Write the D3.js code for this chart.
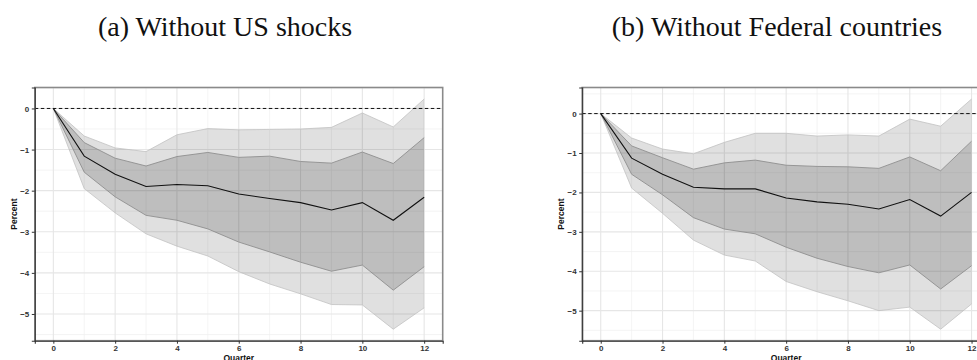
<!DOCTYPE html>
<html>
<head>
<meta charset="utf-8">
<style>
  body { margin: 0; background: #fff; }
  .title { font: 28px "Liberation Serif", "Times New Roman", serif; fill: #111; }
  .tick text { font: bold 8px "Liberation Sans", Arial, sans-serif; fill: #333; }
  .axlab { font: bold 8.5px "Liberation Sans", Arial, sans-serif; fill: #111; }
</style>
</head>
<body>
<script src="https://cdn.jsdelivr.net/npm/d3@7"></script>
<script>

  // quarters after the shock
  var quarters = [0, 1, 2, 3, 4, 5, 6, 7, 8, 9, 10, 11, 12];
  var xTicks = [0, 2, 4, 6, 8, 10, 12];
  var yTicks = [0, -1, -2, -3, -4, -5];
  var titles = ["(a) Without US shocks", "(b) Without Federal countries"];

  // (a) Without US shocks
  var meanA     = [0, -1.16, -1.60, -1.90, -1.85, -1.88, -2.08, -2.19, -2.29, -2.47, -2.29, -2.72, -2.16];
  var innerHiA  = [0, -0.83, -1.21, -1.40, -1.17, -1.07, -1.19, -1.16, -1.29, -1.33, -1.06, -1.34, -0.71];
  var innerLoA  = [0, -1.55, -2.15, -2.60, -2.72, -2.93, -3.25, -3.49, -3.74, -3.96, -3.81, -4.42, -3.85];
  var outerHiA  = [0, -0.67, -0.96, -1.05, -0.64, -0.49, -0.52, -0.51, -0.50, -0.46, -0.11, -0.45, 0.23];
  var outerLoA  = [0, -1.95, -2.54, -3.05, -3.35, -3.59, -3.97, -4.27, -4.51, -4.77, -4.78, -5.37, -4.85];

  // (b) Without Federal countries
  var meanB     = [0, -1.13, -1.54, -1.87, -1.91, -1.91, -2.14, -2.24, -2.30, -2.42, -2.18, -2.60, -2.00];
  var innerHiB  = [0, -0.82, -1.12, -1.41, -1.25, -1.18, -1.31, -1.34, -1.35, -1.39, -1.10, -1.45, -0.70];
  var innerLoB  = [0, -1.54, -2.06, -2.64, -2.93, -3.05, -3.39, -3.67, -3.88, -4.04, -3.84, -4.45, -3.86];
  var outerHiB  = [0, -0.62, -0.90, -1.02, -0.73, -0.50, -0.50, -0.57, -0.54, -0.57, -0.14, -0.32, 0.37];
  var outerLoB  = [0, -1.89, -2.53, -3.21, -3.59, -3.74, -4.26, -4.52, -4.75, -5.00, -4.91, -5.47, -4.83];

  var W = 977, H = 360;

  var svg = d3.select("body").append("svg")
      .attr("width", W)
      .attr("height", H);

  var panels = [
    { title: titles[0], cx: 225, left: 34.8, right: 442.7,
      mean: meanA, ihi: innerHiA, ilo: innerLoA, ohi: outerHiA, olo: outerLoA },
    { title: titles[1], cx: 777, left: 582.2, right: 990.1,
      mean: meanB, ihi: innerHiB, ilo: innerLoB, ohi: outerHiB, olo: outerLoB }
  ];

  var plotTop = 87.5, plotBottom = 340.7;

  panels.forEach(function(p, pi) {

    svg.append("text")
        .attr("class", "title")
        .attr("x", p.cx)
        .attr("y", 36)
        .attr("text-anchor", "middle")
        .text(p.title);

    // ggplot style 5% expansion
    var lo = d3.min(p.olo), hi = d3.max(p.ohi);
    var pad = (hi - lo) * 0.05;
    var x = d3.scaleLinear().domain([-0.6, 12.6]).range([p.left, p.right]);
    var y = d3.scaleLinear().domain([lo - pad, hi + pad]).range([plotBottom, plotTop]);

    var g = svg.append("g");

    g.append("clipPath").attr("id", "clip" + pi)
      .append("rect")
        .attr("x", p.left).attr("y", plotTop)
        .attr("width", p.right - p.left).attr("height", plotBottom - plotTop);

    var inner = g.append("g").attr("clip-path", "url(#clip" + pi + ")");

    // minor grid
    var xMinor = d3.range(-1, 14, 2);
    var yMinor = d3.range(-6.5, 1, 1);
    inner.selectAll(".vminor").data(xMinor).enter().append("line")
        .attr("x1", x).attr("x2", x).attr("y1", plotTop).attr("y2", plotBottom)
        .attr("stroke", "#efefef").attr("stroke-width", 0.7);
    inner.selectAll(".hminor").data(yMinor).enter().append("line")
        .attr("y1", y).attr("y2", y).attr("x1", p.left).attr("x2", p.right)
        .attr("stroke", "#efefef").attr("stroke-width", 0.7);

    // major grid
    inner.selectAll(".vmajor").data(xTicks).enter().append("line")
        .attr("x1", x).attr("x2", x).attr("y1", plotTop).attr("y2", plotBottom)
        .attr("stroke", "#e6e6e6").attr("stroke-width", 1.1);
    inner.selectAll(".hmajor").data(yTicks).enter().append("line")
        .attr("y1", y).attr("y2", y).attr("x1", p.left).attr("x2", p.right)
        .attr("stroke", "#e6e6e6").attr("stroke-width", 1.1);

    function band(hiArr, loArr) {
      return d3.area()
          .x(function(d, i) { return x(quarters[i]); })
          .y0(function(d, i) { return y(loArr[i]); })
          .y1(function(d, i) { return y(hiArr[i]); })(quarters);
    }
    function edge(arr) {
      return d3.line()
          .x(function(d, i) { return x(quarters[i]); })
          .y(function(d) { return y(d); })(arr);
    }

    // outer band
    inner.append("path")
        .attr("d", band(p.ohi, p.olo))
        .attr("fill", "#000").attr("fill-opacity", 0.12);
    inner.append("path").attr("d", edge(p.ohi))
        .attr("fill", "none").attr("stroke", "#c2c2c2").attr("stroke-width", 0.8);
    inner.append("path").attr("d", edge(p.olo))
        .attr("fill", "none").attr("stroke", "#c2c2c2").attr("stroke-width", 0.8);

    // inner band
    inner.append("path")
        .attr("d", band(p.ihi, p.ilo))
        .attr("fill", "#000").attr("fill-opacity", 0.15);
    inner.append("path").attr("d", edge(p.ihi))
        .attr("fill", "none").attr("stroke", "#8f8f8f").attr("stroke-width", 0.9);
    inner.append("path").attr("d", edge(p.ilo))
        .attr("fill", "none").attr("stroke", "#8f8f8f").attr("stroke-width", 0.9);

    // zero line
    inner.append("line")
        .attr("x1", p.left).attr("x2", p.right)
        .attr("y1", y(0)).attr("y2", y(0))
        .attr("stroke", "#111").attr("stroke-width", 1)
        .attr("stroke-dasharray", "3.5,2.5");

    // mean response
    inner.append("path").attr("d", edge(p.mean))
        .attr("fill", "none").attr("stroke", "#111").attr("stroke-width", 1.1);

    // border
    g.append("rect")
        .attr("x", p.left).attr("y", plotTop)
        .attr("width", p.right - p.left).attr("height", plotBottom - plotTop)
        .attr("fill", "none").attr("stroke", "#8a8a8a").attr("stroke-width", 1.6);

    // axes
    var xAxis = g.append("g")
        .attr("transform", "translate(0," + plotBottom + ")")
        .call(d3.axisBottom(x).tickValues(xTicks).tickSize(3).tickPadding(2).tickFormat(d3.format("d")));
    var yAxis = g.append("g")
        .attr("transform", "translate(" + p.left + ",0)")
        .call(d3.axisLeft(y).tickValues(yTicks).tickSize(3).tickPadding(2.5).tickFormat(d3.format("d")));
    [xAxis, yAxis].forEach(function(a) {
      a.select(".domain").attr("stroke", "#333").attr("stroke-width", 1.1);
      a.selectAll(".tick line").attr("stroke", "#333");
    });

    g.append("text")
        .attr("class", "axlab")
        .attr("x", (p.left + p.right) / 2)
        .attr("y", 361)
        .attr("text-anchor", "middle")
        .text("Quarter");

    g.append("text")
        .attr("class", "axlab")
        .attr("transform", "translate(" + (p.left - 18) + "," + ((plotTop + plotBottom) / 2) + ") rotate(-90)")
        .attr("text-anchor", "middle")
        .text("Percent");
  });

</script>
</body>
</html>
